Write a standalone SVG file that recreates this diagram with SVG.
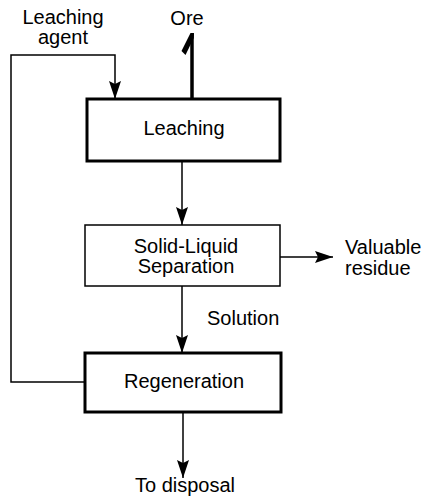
<svg xmlns="http://www.w3.org/2000/svg" width="427" height="497" viewBox="0 0 427 497">
<style>
text{font-family:"Liberation Sans",Arial,sans-serif;font-size:20px;fill:#000}
.c{text-anchor:middle}
.box{fill:#fff;stroke:#000}
.ln{fill:none;stroke:#000;stroke-width:1.5}
</style>
<defs>
<marker id="ah" viewBox="0 0 18 12" markerWidth="18" markerHeight="12" refX="18" refY="6" orient="auto" markerUnits="userSpaceOnUse">
<path d="M0,0 L18,6 L0,12 L3,6 Z" fill="#000"/>
</marker>
</defs>
<g id="connectors">
<polyline class="ln" points="85,382 11,382 11,55 115,55 115,99" marker-end="url(#ah)"/>
<path d="M192,99 V34" stroke="#000" stroke-width="3.5" fill="none"/>
<path d="M190.5,33 L194,33 L193.8,38 L185.5,55 L181.5,51 Z" fill="#000"/>
<line class="ln" x1="182" y1="161" x2="182" y2="225" marker-end="url(#ah)"/>
<line class="ln" x1="280" y1="257" x2="333" y2="257" marker-end="url(#ah)"/>
<line class="ln" x1="182" y1="286" x2="182" y2="353" stroke-width="1" marker-end="url(#ah)"/>
<line class="ln" x1="183" y1="412" x2="183" y2="478" marker-end="url(#ah)"/>
</g>
<g id="leaching-agent-label"><text class="c" x="63" y="24">Leaching</text><text class="c" x="63" y="44">agent</text></g>
<g id="ore-label"><text class="c" x="187" y="25">Ore</text></g>
<g id="leaching"><rect class="box" x="87" y="99" width="193" height="62" stroke-width="3"/><text class="c" x="184" y="135">Leaching</text></g>
<g id="separation"><rect class="box" x="85" y="225" width="195" height="61" stroke-width="1.5"/><text class="c" x="186" y="253">Solid-Liquid</text><text class="c" x="186" y="273">Separation</text></g>
<g id="valuable-residue"><text x="345" y="254">Valuable</text><text x="345" y="275">residue</text></g>
<g id="solution-label"><text x="207" y="325">Solution</text></g>
<g id="regeneration"><rect class="box" x="85" y="353" width="196" height="59" stroke-width="3"/><text class="c" x="184" y="388">Regeneration</text></g>
<g id="disposal"><text class="c" x="185" y="492">To disposal</text></g>
</svg>
